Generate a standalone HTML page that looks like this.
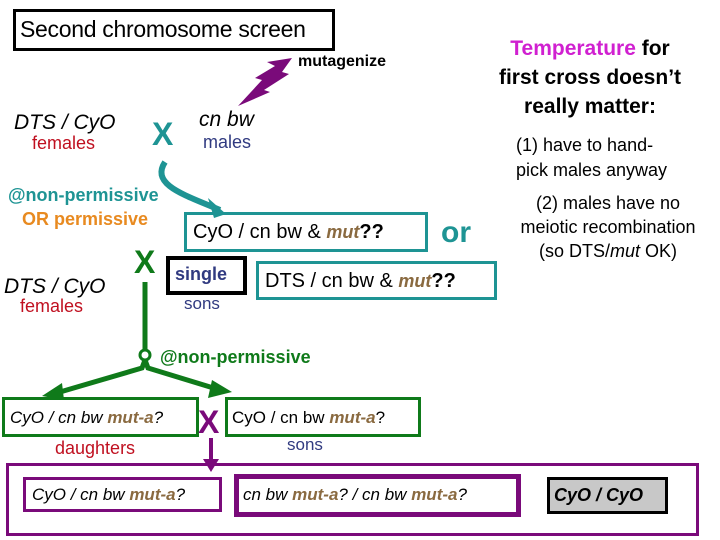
<!DOCTYPE html>
<html><head><meta charset="utf-8"><style>
body{margin:0;width:720px;height:540px;background:#fff;position:relative;overflow:hidden;font-family:"Liberation Sans",sans-serif}
.a{position:absolute;white-space:nowrap;line-height:1}
.bx{position:absolute;box-sizing:border-box}
.m{color:#8a6a40;font-weight:bold;font-style:italic}
</style></head><body>
<div class="bx" style="left:13px;top:9px;width:322px;height:42px;border:3px solid #000"></div>
<div class="a" style="left:20px;top:18px;font-size:23px;letter-spacing:-0.3px">Second chromosome screen</div>
<svg style="position:absolute;left:0;top:0" width="720" height="540">
<polygon points="238,106 262,80 255,78 275,66 267,62 292,58 282,72 289,74 264,90 270,92" fill="#7a0a7a"/>
<path d="M165,162 C150,185 185,195 220,210" fill="none" stroke="#1e9494" stroke-width="6"/>
<polygon points="226,214 208,198 214,218" fill="#1e9494"/>
<line x1="145" y1="282" x2="145" y2="349" stroke="#0f7a1a" stroke-width="5"/>
<circle cx="145" cy="355" r="5" fill="none" stroke="#0f7a1a" stroke-width="3"/>
<path d="M145,360 L142,368 L60,392 M145,360 L148,368 L220,390" fill="none" stroke="#0f7a1a" stroke-width="5"/>
<polygon points="42,396 62,383 64,400" fill="#0f7a1a"/>
<polygon points="232,392 212,380 208,398" fill="#0f7a1a"/>
<line x1="211" y1="438" x2="211" y2="462" stroke="#7a0a7a" stroke-width="4"/>
<polygon points="203,459 219,459 211,472" fill="#7a0a7a"/>
</svg>
<div class="a" style="left:298px;top:54px;font-size:16px;font-weight:bold">mutagenize</div>
<div class="a" style="left:470px;top:34px;width:240px;text-align:center;font-size:21px;font-weight:bold;line-height:29px">
<span style="color:#d020d0">Temperature</span> for<br>first cross doesn’t<br>really matter:</div>
<div class="a" style="left:516px;top:133px;font-size:18px;line-height:25px">(1) have to hand-<br>pick males anyway</div>
<div class="a" style="left:508px;top:191px;width:200px;font-size:18px;line-height:24px;text-align:center">(2) males have no<br>meiotic recombination<br>(so DTS/<i>mut</i> OK)</div>

<div class="a" style="left:14px;top:112px;font-size:21px;font-style:italic">DTS / CyO</div>
<div class="a" style="left:32px;top:134px;font-size:18px;color:#c01020">females</div>
<div class="a" style="left:152px;top:118px;font-size:32px;font-weight:bold;color:#1e9494">X</div>
<div class="a" style="left:199px;top:109px;font-size:21px;font-style:italic">cn bw</div>
<div class="a" style="left:203px;top:133px;font-size:18px;color:#303a80">males</div>

<div class="a" style="left:8px;top:186px;font-size:18px;font-weight:bold;color:#1e9494">@non-permissive</div>
<div class="a" style="left:22px;top:210px;font-size:18px;font-weight:bold;color:#e88a20">OR permissive</div>
<div class="bx" style="left:184px;top:212px;width:244px;height:40px;border:3px solid #1e9494"></div>
<div class="a" style="left:193px;top:222px;font-size:20px">CyO / cn bw &amp; <span class="m" style="font-size:18px">mut</span><b>??</b></div>
<div class="a" style="left:441px;top:218px;font-size:30px;font-weight:bold;color:#1e9494">or</div>

<div class="a" style="left:134px;top:246px;font-size:32px;font-weight:bold;color:#0f7a1a">X</div>
<div class="a" style="left:4px;top:276px;font-size:21px;font-style:italic">DTS / CyO</div>
<div class="a" style="left:20px;top:297px;font-size:18px;color:#c01020">females</div>
<div class="bx" style="left:166px;top:256px;width:81px;height:39px;border:4px solid #000"></div>
<div class="a" style="left:175px;top:265px;font-size:18px;font-weight:bold;color:#303a80">single</div>
<div class="a" style="left:184px;top:295px;font-size:17px;color:#303a80">sons</div>
<div class="bx" style="left:256px;top:261px;width:241px;height:39px;border:3px solid #1e9494"></div>
<div class="a" style="left:265px;top:271px;font-size:20px">DTS / cn bw &amp; <span class="m" style="font-size:18px">mut</span><b>??</b></div>

<div class="a" style="left:160px;top:348px;font-size:18px;font-weight:bold;color:#0f7a1a">@non-permissive</div>

<div class="bx" style="left:2px;top:397px;width:197px;height:40px;border:3px solid #0f7a1a"></div>
<div class="a" style="left:10px;top:409px;font-size:17px;font-style:italic">CyO / cn bw <span class="m">mut-a</span>?</div>
<div class="a" style="left:55px;top:439px;font-size:18px;color:#c01020">daughters</div>
<div class="a" style="left:198px;top:406px;font-size:32px;font-weight:bold;color:#7a0a7a">X</div>
<div class="bx" style="left:225px;top:397px;width:196px;height:40px;border:3px solid #0f7a1a"></div>
<div class="a" style="left:232px;top:409px;font-size:17px">CyO / cn bw <span class="m">mut-a</span>?</div>
<div class="a" style="left:287px;top:436px;font-size:17px;color:#303a80">sons</div>

<div class="bx" style="left:6px;top:463px;width:693px;height:73px;border:3px solid #7a0a7a"></div>
<div class="bx" style="left:23px;top:477px;width:199px;height:35px;border:3px solid #7a0a7a"></div>
<div class="a" style="left:32px;top:486px;font-size:17px;font-style:italic">CyO / cn bw <span class="m">mut-a</span>?</div>
<div class="bx" style="left:234px;top:474px;width:287px;height:43px;border:5px solid #7a0a7a"></div>
<div class="a" style="left:243px;top:486px;font-size:17px;font-style:italic">cn bw <span class="m">mut-a</span>? / cn bw <span class="m">mut-a</span>?</div>
<div class="bx" style="left:547px;top:477px;width:121px;height:37px;border:3px solid #000;background:#c8c8c8"></div>
<div class="a" style="left:554px;top:486px;font-size:18px;font-weight:bold;font-style:italic">CyO / CyO</div>
</body></html>
